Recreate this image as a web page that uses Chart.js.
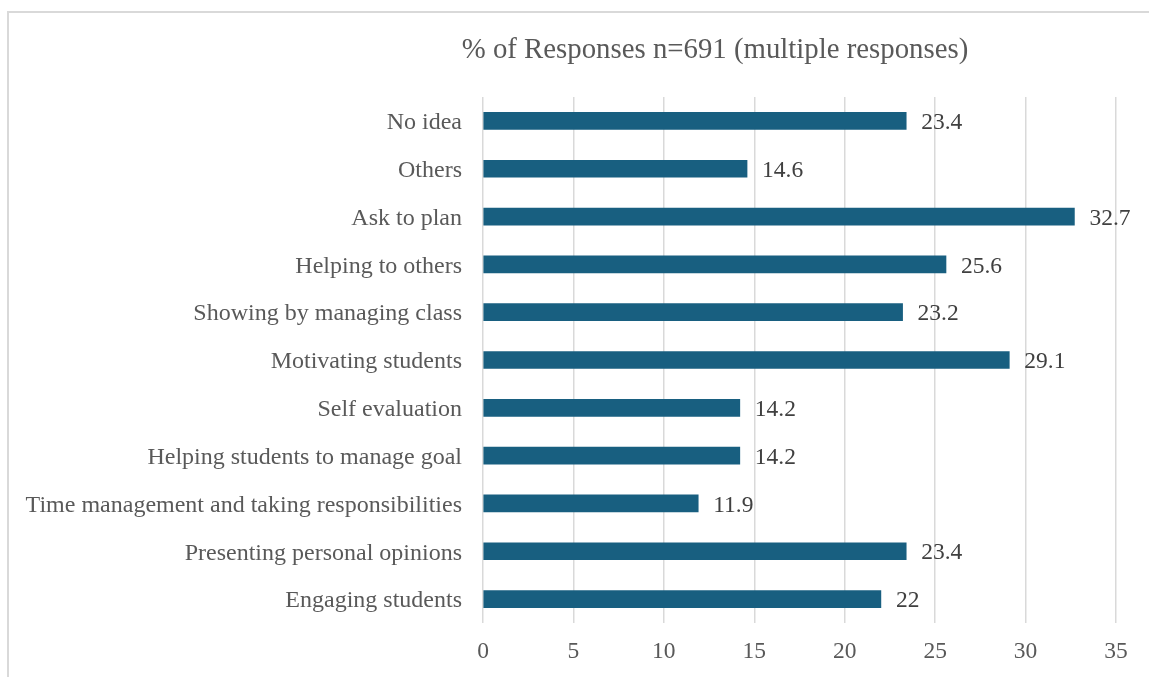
<!DOCTYPE html>
<html>
<head>
<meta charset="utf-8">
<script src="https://cdn.jsdelivr.net/npm/chart.js@4/dist/chart.umd.min.js"></script>
<style>
  html, body { margin: 0; padding: 0; background: #fff; }
  #wrap { position: relative; width: 1149px; height: 677px; }
  #frame {
    position: absolute; left: 7px; top: 11px; right: -4px; bottom: -4px;
    border-left: 2px solid #d9d9d9; border-top: 2px solid #d9d9d9;
  }
  canvas { position: absolute; left: 0; top: 0; }
</style>
</head>
<body>
<div id="wrap">
  <div id="frame"></div>
  <canvas id="chart" width="1149" height="677"></canvas>
</div>
<script>
const chartTitle = '% of Responses n=691 (multiple responses)';
const categories = [
  'No idea',
  'Others',
  'Ask to plan',
  'Helping to others',
  'Showing by managing class',
  'Motivating students',
  'Self evaluation',
  'Helping students to manage goal',
  'Time management and taking responsibilities',
  'Presenting personal opinions',
  'Engaging students'
];
const responses = [23.4, 14.6, 32.7, 25.6, 23.2, 29.1, 14.2, 14.2, 11.9, 23.4, 22];
const xTicks = [0, 5, 10, 15, 20, 25, 30, 35];

const serif = '"Liberation Serif", "Times New Roman", serif';

// value printed just right of each bar
const barLabels = {
  id: 'barLabels',
  afterDatasetsDraw(chart) {
    const ctx = chart.ctx;
    const meta = chart.getDatasetMeta(0);
    ctx.save();
    ctx.font = '23.5px ' + serif;
    ctx.fillStyle = '#404040';
    ctx.textAlign = 'left';
    ctx.textBaseline = 'middle';
    meta.data.forEach((bar, i) => {
      ctx.fillText(String(responses[i]), bar.x + 15, bar.y + 2);
    });
    ctx.restore();
  }
};

// title sits a bit left of the plot centre
const topTitle = {
  id: 'topTitle',
  afterDraw(chart) {
    const ctx = chart.ctx;
    ctx.save();
    ctx.font = '28.8px ' + serif;
    ctx.fillStyle = '#595959';
    ctx.textAlign = 'center';
    ctx.textBaseline = 'alphabetic';
    ctx.fillText(chartTitle, 715, 58);
    ctx.restore();
  }
};

new Chart(document.getElementById('chart'), {
  type: 'bar',
  data: {
    labels: categories,
    datasets: [{
      data: responses,
      backgroundColor: '#185f80',
      borderWidth: 0,
      barThickness: 17
    }]
  },
  options: {
    indexAxis: 'y',
    responsive: false,
    animation: false,
    layout: { padding: { top: 97, right: 33, left: 0, bottom: 0 } },
    plugins: {
      legend: { display: false },
      title: { display: false },
      tooltip: { enabled: false }
    },
    scales: {
      x: {
        min: 0,
        max: 35,
        afterBuildTicks: scale => { scale.ticks = xTicks.map(v => ({ value: v })); },
        afterFit: scale => { scale.height = 54; },
        border: { display: false },
        grid: { color: '#d9d9d9', lineWidth: 1.5, drawTicks: false },
        ticks: {
          padding: 15,
          color: '#595959',
          font: { family: serif, size: 23.5 }
        }
      },
      y: {
        afterFit: scale => { scale.width = 483; },
        border: { display: false },
        grid: { display: false, drawTicks: false },
        ticks: {
          padding: 21,
          labelOffset: 2,
          color: '#595959',
          font: { family: serif, size: 24 }
        }
      }
    }
  },
  plugins: [barLabels, topTitle]
});
</script>
</body>
</html>
